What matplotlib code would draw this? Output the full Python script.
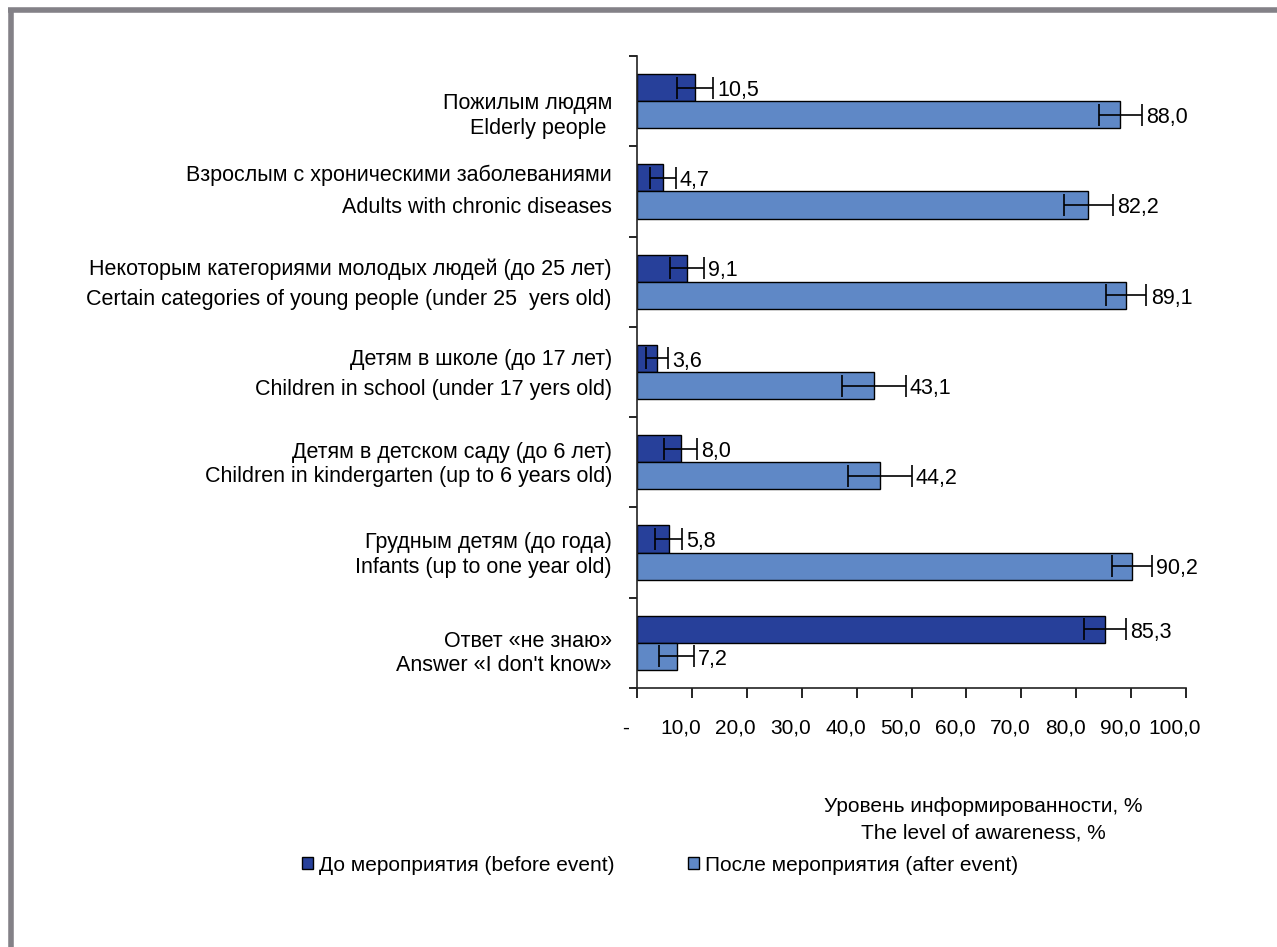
import numpy as np
import matplotlib
matplotlib.use('Agg')
import matplotlib.pyplot as plt
import matplotlib.transforms as mtransforms
from matplotlib.patches import Patch
from matplotlib.lines import Line2D

plt.rcParams['font.family'] = ['Liberation Sans', 'DejaVu Sans']

# categories (top to bottom)
groups = [
    'Пожилым людям\nElderly people ',
    'Взрослым с хроническими заболеваниями\nAdults with chronic diseases',
    'Некоторым категориями молодых людей (до 25 лет)\nCertain categories of young people (under 25  yers old)',
    'Детям в школе (до 17 лет)\nChildren in school (under 17 yers old)',
    'Детям в детском саду (до 6 лет)\nChildren in kindergarten (up to 6 years old)',
    'Грудным детям (до года)\nInfants (up to one year old)',
    'Ответ «не знаю»\nAnswer «I don\'t know»',
]
# awareness, %
before = [10.5, 4.7, 9.1, 3.6, 8.0, 5.8, 85.3]
after = [88.0, 82.2, 89.1, 43.1, 44.2, 90.2, 7.2]
# error bar half-widths
before_err = [3.3, 2.35, 3.15, 2.0, 3.0, 2.45, 3.8]
after_err = [3.9, 4.45, 3.7, 5.85, 5.85, 3.6, 3.15]

xticks = [0, 10, 20, 30, 40, 50, 60, 70, 80, 90, 100]
xticklabels = ['-', '10,0', '20,0', '30,0', '40,0', '50,0', '60,0', '70,0', '80,0', '90,0', '100,0']

legend_labels = ['До мероприятия (before event)', 'После мероприятия (after event)']
xlabel = 'Уровень информированности, %\nThe level of awareness, %'

c_before = '#27409a'
c_after = '#5f88c6'
fs = 15

# per-label line spacing and vertical nudge (points, down is negative)
label_spacing = [1.25, 1.7, 1.55, 1.55, 1.2, 1.3, 1.2]
label_shift = [-10.8, 0.3, -1.8, -1.8, -1.8, -1.8, -7.8]

fig = plt.figure(figsize=(12.77, 9.47), dpi=100)
ax = fig.add_axes([637 / 1277, 1 - 688 / 947, 549 / 1277, 632 / 947])

y = np.arange(len(groups))
h = 0.3
ekw = dict(ecolor='black', elinewidth=1.2, capsize=8, capthick=1.2)
ax.barh(y - h / 2, before, height=h, color=c_before, edgecolor='black', linewidth=1.0,
        xerr=before_err, error_kw=ekw, zorder=2)
ax.barh(y + h / 2, after, height=h, color=c_after, edgecolor='black', linewidth=1.0,
        xerr=after_err, error_kw=ekw, zorder=2)

# value labels right of the error bars
for i in range(len(groups)):
    ax.annotate(f'{before[i]:.1f}'.replace('.', ','), (before[i] + before_err[i], y[i] - h / 2),
                xytext=(3, -2), textcoords='offset points', va='center', ha='left', fontsize=15.5)
    ax.annotate(f'{after[i]:.1f}'.replace('.', ','), (after[i] + after_err[i], y[i] + h / 2),
                xytext=(3, -2), textcoords='offset points', va='center', ha='left', fontsize=15.5)

ax.set_xlim(0, 100)
ax.set_ylim(len(groups) - 0.5, -0.5)
ax.set_xticks(xticks)
ax.set_xticklabels(xticklabels, fontsize=fs)
ax.tick_params(axis='x', direction='out', length=7, width=1.2, pad=15)
for lab in ax.get_xticklabels():
    lab.set_transform(lab.get_transform() +
                      mtransforms.ScaledTranslation(-8 / 72, 0, fig.dpi_scale_trans))

ax.set_yticks(np.arange(len(groups) + 1) - 0.5)
ax.set_yticklabels([])
ax.tick_params(axis='y', direction='out', length=6, width=1.2)

# category labels, right aligned block left of the axis
ytrans = mtransforms.blended_transform_factory(ax.transAxes, ax.transData)
for i, g in enumerate(groups):
    tr = ytrans + mtransforms.ScaledTranslation(-18 / 72, label_shift[i] / 72, fig.dpi_scale_trans)
    ax.text(0, y[i], g, transform=tr, ha='right', va='center', multialignment='right',
            fontsize=15.5, linespacing=label_spacing[i])

for s in ['top', 'right']:
    ax.spines[s].set_visible(False)
for s in ['left', 'bottom']:
    ax.spines[s].set_linewidth(1.2)
    ax.spines[s].set_color('#222222')

fig.text(983 / 1277, 1 - 820 / 947, xlabel, ha='center', va='center', fontsize=fs, linespacing=1.5)

handles = [Patch(facecolor=c_before, edgecolor='black'), Patch(facecolor=c_after, edgecolor='black')]
fig.legend(handles, legend_labels, loc='center', bbox_to_anchor=(660 / 1277, 1 - 865 / 947),
           ncol=2, frameon=False, fontsize=fs, handlelength=0.55, handleheight=0.55,
           handletextpad=0.3, columnspacing=3.5)

# grey frame on the top and left edges
fig.add_artist(Line2D([10.5 / 1277, 10.5 / 1277], [0, 1 - 8 / 947], color='#838187', linewidth=4,
                      transform=fig.transFigure, solid_capstyle='butt'))
fig.add_artist(Line2D([8 / 1277, 1], [1 - 10.5 / 947, 1 - 10.5 / 947], color='#838187', linewidth=4,
                      transform=fig.transFigure, solid_capstyle='butt'))

fig.savefig('out.png', dpi=100)
